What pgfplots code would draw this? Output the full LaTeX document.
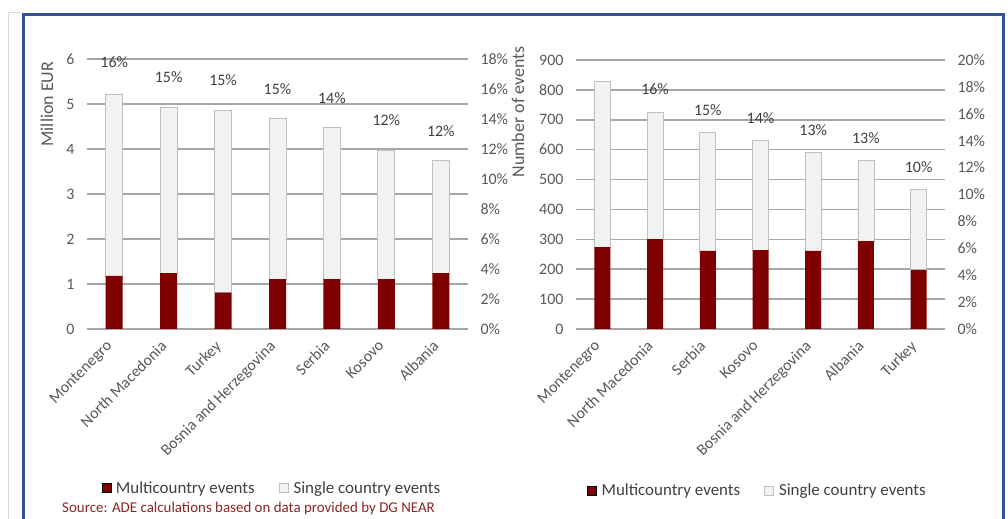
\documentclass[border=0pt]{standalone}
\usepackage{pgfplots}
\pgfplotsset{compat=1.18}
\usepackage{fontspec}
\setmainfont{Carlito}
\definecolor{multi}{HTML}{7F0000}
\definecolor{single}{HTML}{F2F2F2}
\definecolor{singleedge}{HTML}{BFBFBF}
\definecolor{gridc}{HTML}{A6A6A6}
\definecolor{txt}{HTML}{595959}
\definecolor{lbl}{HTML}{404040}
\definecolor{framec}{HTML}{2F5597}
\definecolor{src}{HTML}{8B2525}
\newcommand{\fs}{\fontsize{16}{18}\selectfont}
\pgfplotsset{
  base/.style={scale only axis, anchor=south west, xmin=-0.5, xmax=6.5,
    xtick={0,...,6}, ymin=0, axis line style={draw=none}, major tick length=0pt,
    tick label style={font=\fs, text=txt},
    /pgf/number format/assume math mode=true},
  prim/.style={base, ymajorgrids, grid style={gridc, line width=1.6bp},
    ybar stacked,
    xticklabel style={xshift=-9bp, yshift=-9bp, rotate=45, anchor=north east, inner sep=1bp},
    yticklabel style={xshift=-9bp},
    ylabel style={font=\fontsize{18}{20}\selectfont, text=txt, anchor=center},
    legend style={draw=none, fill=none, legend columns=2, font=\fontsize{17}{19}\selectfont, text=lbl,
      anchor=center, /tikz/every even column/.append style={column sep=22bp}},
    every axis plot post/.append style={legend image code/.code={\draw[##1] (0bp,-4.5bp) rectangle (9bp,4.5bp); \path (12bp,0bp);}}},
  sec/.style={base, axis y line*=right, hide x axis, axis line style={draw=none},
    yticklabel={\pgfmathprintnumber{\tick}\%}, yticklabel style={xshift=9bp},
    nodes near coords, point meta=explicit symbolic,
    nodes near coords style={anchor=center, font=\fs, text=lbl}},
}
\begin{document}
\begin{tikzpicture}
\useasboundingbox (0,0) rectangle (1008bp,519bp);
\fill[white] (0,0) rectangle (1008bp,519bp);
\draw[color=black!15, line width=1bp] (8bp,-5bp) -- (8bp,506bp) -- (22bp,506bp);
\draw[color=framec, line width=3bp] (23.5bp,-5bp) -- (23.5bp,504.5bp) -- (1003.5bp,504.5bp) -- (1003.5bp,-5bp);

% ---------- left chart ----------
\begin{axis}[prim, at={(87bp,190bp)}, width=381bp, height=270bp, ymax=6, ytick={0,...,6},
  bar width=17bp,
  xticklabels={Montenegro,North Macedonia,Turkey,Bosnia and Herzegovina,Serbia,Kosovo,Albania},
  ylabel={Million EUR}, ylabel style={at={(axis description cs:-0.105,0.833)}},
  legend style={at={(axis description cs:0.4856,-0.589)}}]
\addplot[fill=multi, draw=none] coordinates {(0,1.18) (1,1.24) (2,0.81) (3,1.11) (4,1.11) (5,1.11) (6,1.24)};
\addplot[fill=single, draw=singleedge, line width=0.8bp] coordinates {(0,4.04) (1,3.69) (2,4.04) (3,3.57) (4,3.37) (5,2.87) (6,2.51)};
\legend{Multicountry events,Single country events}
\end{axis}
\begin{axis}[sec, at={(87bp,190bp)}, width=381bp, height=270bp, ymax=18, ytick={0,2,...,18}]
\addplot[draw=none] coordinates {(0,17.8)[16\%] (1,16.8)[15\%] (2,16.6)[15\%] (3,16.0)[15\%] (4,15.4)[14\%] (5,13.9)[12\%] (6,13.2)[12\%]};
\end{axis}

% ---------- right chart ----------
\begin{axis}[prim, at={(576bp,190bp)}, width=369bp, height=269bp, ymax=900, ytick={0,100,...,900},
  bar width=16bp,
  xticklabels={Montenegro,North Macedonia,Serbia,Kosovo,Bosnia and Herzegovina,Albania,Turkey},
  ylabel={Number of events}, ylabel style={at={(axis description cs:-0.157,0.807)}},
  legend style={at={(axis description cs:0.492,-0.601)}}]
\addplot[fill=multi, draw=none] coordinates {(0,274) (1,301) (2,261) (3,264) (4,261) (5,294) (6,198)};
\addplot[fill=single, draw=singleedge, line width=0.8bp] coordinates {(0,556) (1,423) (2,396) (3,366) (4,329) (5,269) (6,268)};
\legend{Multicountry events,Single country events}
\end{axis}
\begin{axis}[sec, at={(576bp,190bp)}, width=369bp, height=269bp, ymax=20, ytick={0,2,...,20}]
\addplot[draw=none] coordinates {(0,20.2)[19\%] (1,17.8)[16\%] (2,16.3)[15\%] (3,15.7)[14\%] (4,14.8)[13\%] (5,14.2)[13\%] (6,12.0)[10\%]};
\end{axis}

\node[anchor=west, text=src, font=\fontsize{15}{17}\selectfont, inner sep=0pt] at (62bp,10bp) {Source: ADE calculations based on data provided by DG NEAR};
\end{tikzpicture}
\end{document}
